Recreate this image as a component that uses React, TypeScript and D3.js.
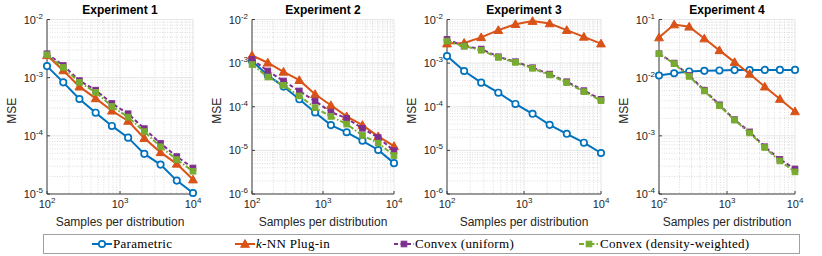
import { useEffect, useRef } from "react"
import * as d3 from "d3"

// sample sizes (logspace(2, 4, 10))
const samples = [100, 167, 278, 464, 774, 1292, 2154, 3594, 5995, 10000]

const titles = ["Experiment 1", "Experiment 2", "Experiment 3", "Experiment 4"]
const yDomains: [number, number][] = [
  [1e-5, 1e-2],
  [1e-6, 1e-2],
  [1e-6, 1e-2],
  [1e-4, 1e-1],
]

// MSE per experiment, per method
const parametric = [
  [1.58e-3, 8.3e-4, 4.3e-4, 2.5e-4, 1.48e-4, 9.3e-5, 4.9e-5, 3.2e-5, 1.7e-5, 1.04e-5],
  [1.12e-3, 5.25e-4, 2.9e-4, 1.48e-4, 7.4e-5, 3.8e-5, 2.6e-5, 1.66e-5, 1.02e-5, 5.1e-6],
  [1.45e-3, 6.6e-4, 3.57e-4, 2.1e-4, 1.16e-4, 6.9e-5, 3.85e-5, 2.4e-5, 1.5e-5, 8.7e-6],
  [1.09e-2, 1.19e-2, 1.28e-2, 1.31e-2, 1.33e-2, 1.35e-2, 1.35e-2, 1.36e-2, 1.36e-2, 1.36e-2],
]
const knn = [
  [2.42e-3, 1.33e-3, 7.0e-4, 4.4e-4, 2.7e-4, 1.8e-4, 9.1e-5, 5.2e-5, 3.3e-5, 1.77e-5],
  [1.5e-3, 1.02e-3, 6.3e-4, 4.06e-4, 1.94e-4, 1.08e-4, 6.0e-5, 3.8e-5, 2.1e-5, 1.25e-5],
  [2.8e-3, 2.9e-3, 3.9e-3, 5.7e-3, 7.8e-3, 9.2e-3, 8.1e-3, 5.7e-3, 4.0e-3, 2.8e-3],
  [4.9e-2, 8.2e-2, 7.5e-2, 4.7e-2, 2.95e-2, 1.85e-2, 1.16e-2, 7.0e-3, 4.3e-3, 2.63e-3],
]
const convexUniform = [
  [2.58e-3, 1.62e-3, 8.9e-4, 6.1e-4, 3.6e-4, 2.4e-4, 1.33e-4, 7.4e-5, 4.4e-5, 2.8e-5],
  [1.22e-3, 6.6e-4, 3.9e-4, 2.3e-4, 1.35e-4, 7.6e-5, 5.4e-5, 3.2e-5, 1.97e-5, 9.8e-6],
  [3.5e-3, 2.46e-3, 2.1e-3, 1.4e-3, 1.08e-3, 7.85e-4, 5.6e-4, 3.75e-4, 2.34e-4, 1.48e-4],
  [2.58e-2, 1.78e-2, 1.09e-2, 6.1e-3, 3.42e-3, 1.9e-3, 1.17e-3, 6.5e-4, 3.93e-4, 2.7e-4],
]
const convexDensity = [
  [2.48e-3, 1.5e-3, 8.3e-4, 5.6e-4, 3.2e-4, 2.1e-4, 1.18e-4, 6.5e-5, 3.9e-5, 2.46e-5],
  [9.3e-4, 4.8e-4, 3.1e-4, 1.77e-4, 9.5e-5, 6.0e-5, 4.0e-5, 2.2e-5, 1.47e-5, 7.6e-6],
  [3.2e-3, 2.45e-3, 1.97e-3, 1.35e-3, 1.04e-3, 7.6e-4, 5.35e-4, 3.57e-4, 2.22e-4, 1.38e-4],
  [2.58e-2, 1.74e-2, 1.05e-2, 5.9e-3, 3.3e-3, 1.86e-3, 1.12e-3, 6.3e-4, 3.7e-4, 2.4e-4],
]

const methods = [
  { name: "Parametric", data: parametric, color: "#0072BD", dash: null, marker: "circle" },
  { name: "k-NN Plug-in", data: knn, color: "#D95319", dash: null, marker: "triangle" },
  { name: "Convex (uniform)", data: convexUniform, color: "#7E2F8E", dash: "4,2.5", marker: "square" },
  { name: "Convex (density-weighted)", data: convexDensity, color: "#77AC30", dash: "5,2,1.5,2", marker: "square" },
]

// panel boxes (left, right) in px
const panelX = [
  [47, 193],
  [252, 394],
  [447, 601],
  [659, 795],
]
const legendMarkerX = [102, 245, 404, 589]

export default function App() {
  const svgRef = useRef<SVGSVGElement>(null)

  useEffect(() => {
    if (!svgRef.current) return
    const svg = d3.select(svgRef.current)
    svg.selectAll("*").remove()

    const width = 822
    const height = 256
    const top = 19.5
    const bottom = 194
    const axisColor = "#404040"
    const sans = "Liberation Sans, Arial, sans-serif"

    svg.attr("width", width).attr("height", height)
    svg.append("rect").attr("width", width).attr("height", height).attr("fill", "white")

    const drawMarker = (g: any, type: string, color: string, x: number, y: number) => {
      if (type === "circle") {
        g.append("circle").attr("cx", x).attr("cy", y).attr("r", 3.2)
          .attr("fill", "white").attr("stroke", color).attr("stroke-width", 1.7)
      } else if (type === "triangle") {
        const s = 4.4
        g.append("path")
          .attr("d", `M${x},${y - s}L${x + s},${y + s * 0.75}L${x - s},${y + s * 0.75}Z`)
          .attr("fill", color).attr("stroke", color).attr("stroke-width", 1)
      } else {
        const s = 2.8
        g.append("rect").attr("x", x - s).attr("y", y - s).attr("width", 2 * s).attr("height", 2 * s)
          .attr("fill", color).attr("stroke", color).attr("stroke-width", 1)
      }
    }

    titles.forEach((title, p) => {
      const [left, right] = panelX[p]
      const x = d3.scaleLog().domain([100, 10000]).range([left, right])
      const y = d3.scaleLog().domain(yDomains[p]).range([bottom, top])
      const g = svg.append("g")

      // minor grid
      const minorX: number[] = []
      for (let e = 2; e < 4; e++) for (let m = 2; m <= 9; m++) minorX.push(m * Math.pow(10, e))
      const [y0, y1] = yDomains[p]
      const minorY: number[] = []
      const majorY: number[] = []
      for (let e = Math.round(Math.log10(y0)); e <= Math.round(Math.log10(y1)); e++) {
        majorY.push(Math.pow(10, e))
        if (Math.pow(10, e) < y1) for (let m = 2; m <= 9; m++) minorY.push(m * Math.pow(10, e))
      }
      const majorX = [100, 1000, 10000]

      g.selectAll(".mgx").data(minorX).enter().append("line")
        .attr("x1", (d) => x(d)).attr("x2", (d) => x(d)).attr("y1", top).attr("y2", bottom)
        .attr("stroke", "#c8c8c8").attr("stroke-width", 0.6).attr("stroke-dasharray", "1,1.5")
      g.selectAll(".mgy").data(minorY).enter().append("line")
        .attr("x1", left).attr("x2", right).attr("y1", (d) => y(d)).attr("y2", (d) => y(d))
        .attr("stroke", "#c8c8c8").attr("stroke-width", 0.6).attr("stroke-dasharray", "1,1.5")
      g.selectAll(".Mgx").data(majorX).enter().append("line")
        .attr("x1", (d) => x(d)).attr("x2", (d) => x(d)).attr("y1", top).attr("y2", bottom)
        .attr("stroke", "#e0e0e0").attr("stroke-width", 0.8)
      g.selectAll(".Mgy").data(majorY).enter().append("line")
        .attr("x1", left).attr("x2", right).attr("y1", (d) => y(d)).attr("y2", (d) => y(d))
        .attr("stroke", "#e0e0e0").attr("stroke-width", 0.8)

      // axes
      g.append("line").attr("x1", left).attr("x2", left).attr("y1", top).attr("y2", bottom)
        .attr("stroke", axisColor).attr("stroke-width", 1)
      g.append("line").attr("x1", left).attr("x2", right).attr("y1", bottom).attr("y2", bottom)
        .attr("stroke", axisColor).attr("stroke-width", 1)
      g.selectAll(".tx").data(majorX).enter().append("line")
        .attr("x1", (d) => x(d)).attr("x2", (d) => x(d)).attr("y1", bottom).attr("y2", bottom - 3)
        .attr("stroke", axisColor)
      g.selectAll(".ty").data(majorY).enter().append("line")
        .attr("x1", left).attr("x2", left + 3).attr("y1", (d) => y(d)).attr("y2", (d) => y(d))
        .attr("stroke", axisColor)

      // tick labels
      majorX.forEach((v) => {
        const t = g.append("text").attr("x", x(v)).attr("y", bottom + 14)
          .attr("text-anchor", "middle").attr("font-family", sans).attr("font-size", 11).attr("fill", "#262626")
        t.append("tspan").text("10")
        t.append("tspan").attr("dy", -5).attr("font-size", 8).text(String(Math.round(Math.log10(v))))
      })
      majorY.forEach((v) => {
        const t = g.append("text").attr("x", left - 4).attr("y", y(v) + 4)
          .attr("text-anchor", "end").attr("font-family", sans).attr("font-size", 11).attr("fill", "#262626")
        t.append("tspan").text("10")
        t.append("tspan").attr("dy", -5).attr("font-size", 8).text(String(Math.round(Math.log10(v))))
      })

      // labels
      g.append("text").attr("x", (left + right) / 2).attr("y", 14).attr("text-anchor", "middle")
        .attr("font-family", sans).attr("font-size", 12).attr("font-weight", "bold").attr("fill", "black")
        .text(title)
      g.append("text").attr("x", (left + right) / 2).attr("y", 226).attr("text-anchor", "middle")
        .attr("font-family", sans).attr("font-size", 12).attr("fill", "#262626")
        .text("Samples per distribution")
      g.append("text")
        .attr("transform", `translate(${left - 31},${(top + bottom) / 2 + 4}) rotate(-90)`)
        .attr("text-anchor", "middle").attr("font-family", sans).attr("font-size", 12).attr("fill", "#262626")
        .text("MSE")

      // series
      methods.forEach((m) => {
        const vals = m.data[p]
        const line = d3.line<number>().x((_, i) => x(samples[i])).y((d) => y(d))
        const path = g.append("path").datum(vals).attr("d", line)
          .attr("fill", "none").attr("stroke", m.color).attr("stroke-width", 2)
        if (m.dash) path.attr("stroke-dasharray", m.dash)
        vals.forEach((v, i) => drawMarker(g, m.marker, m.color, x(samples[i]), y(v)))
      })
    })

    // legend
    const lg = svg.append("g")
    lg.append("rect").attr("x", 43.5).attr("y", 234.5).attr("width", 756).attr("height", 19)
      .attr("fill", "white").attr("stroke", "#a0a0a0").attr("stroke-width", 1)
    methods.forEach((m, i) => {
      const cx = legendMarkerX[i]
      const ly = 244
      const l = lg.append("line").attr("x1", cx - 10).attr("x2", cx + 10).attr("y1", ly).attr("y2", ly)
        .attr("stroke", m.color).attr("stroke-width", 2)
      if (m.dash) l.attr("stroke-dasharray", m.dash)
      drawMarker(lg, m.marker, m.color, cx, ly)
      const t = lg.append("text").attr("x", cx + 11).attr("y", ly + 4)
        .attr("font-family", "Liberation Serif, Times New Roman, serif").attr("font-size", 13)
        .attr("letter-spacing", 0.3).attr("fill", "black")
      if (m.name.startsWith("k-")) {
        t.append("tspan").attr("font-style", "italic").text("k")
        t.append("tspan").text(m.name.slice(1))
      } else {
        t.text(m.name)
      }
    })
  }, [])

  return (
    <div style={{ position: "absolute", left: 0, top: 0 }}>
      <svg ref={svgRef} style={{ display: "block" }} />
    </div>
  )
}
